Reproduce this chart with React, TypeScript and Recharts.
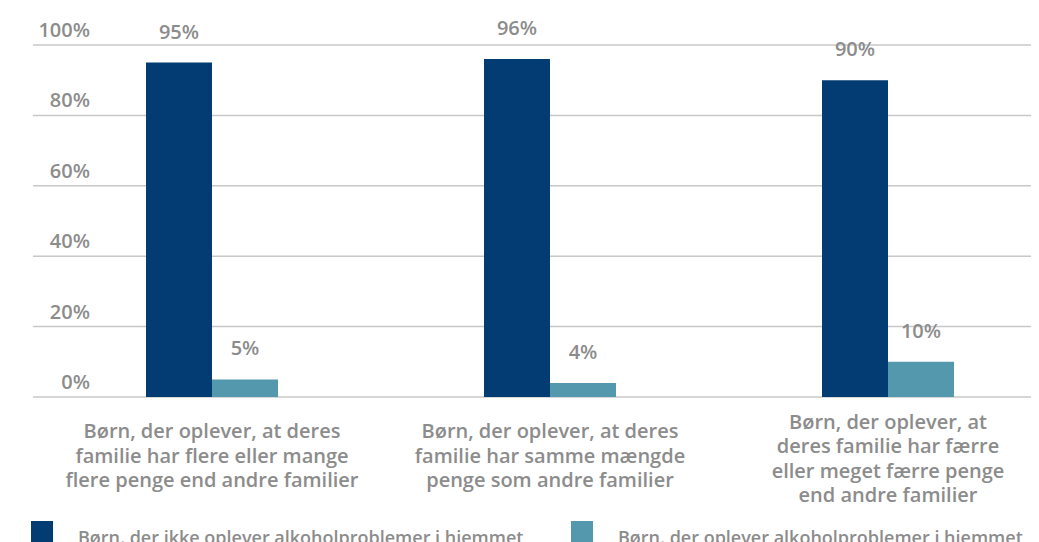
import { Bar, BarChart, CartesianGrid, LabelList, XAxis, YAxis } from "recharts";

const categories = [
  "Børn, der oplever, at deres\nfamilie har flere eller mange\nflere penge end andre familier",
  "Børn, der oplever, at deres\nfamilie har samme mængde\npenge som andre familier",
  "Børn, der oplever, at\nderes familie har færre\neller meget færre penge\nend andre familier",
];
const seriesNames = [
  "Børn, der ikke oplever alkoholproblemer i hjemmet",
  "Børn, der oplever alkoholproblemer i hjemmet",
];
const noProblems = [95, 96, 90];
const withProblems = [5, 4, 10];
const yTicks = [0, 20, 40, 60, 80, 100];

const colors = ["#023c72", "#5398ad"];
const textColor = "#8c8c8c";
const font = "'Open Sans', sans-serif";

const data = categories.map((name, i) => ({ name, a: noProblems[i], b: withProblems[i] }));

function YTick(props: any) {
  const { y, payload } = props;
  return (
    <text x={82} y={y - 8} textAnchor="end" fill={textColor} fontSize={20} fontWeight={600} fontFamily={font}>
      {payload.value}%
    </text>
  );
}

// multi-line category label, roughly centred under the axis
function XTick(props: any) {
  const { x, y, payload } = props;
  const lines = String(payload.value).split("\n");
  const lh = 24.5;
  const first = 33 - (lines.length - 3) * 9.5;
  return (
    <text x={x} y={y} textAnchor="middle" fill={textColor} fontSize={20} fontWeight={600} fontFamily={font}>
      {lines.map((l, i) => (
        <tspan key={i} x={x} dy={i === 0 ? first : lh}>
          {l}
        </tspan>
      ))}
    </text>
  );
}

function ValueLabel(props: any) {
  const { x, y, width, value } = props;
  return (
    <text x={x + width / 2} y={y - 24} textAnchor="middle" fill={textColor} fontSize={20} fontWeight={600} fontFamily={font}>
      {value}%
    </text>
  );
}

export default function App() {
  return (
    <div style={{ position: "relative", width: 1031, height: 534, overflow: "hidden", fontFamily: font }}>
      <style>{"html,body{overflow:hidden}"}</style>
      <BarChart width={1049} height={534} data={data} margin={{ top: 37, right: 0, bottom: 25, left: 0 }} barGap={0}>
        <CartesianGrid horizontal vertical={false} stroke="#c8c8c8" strokeWidth={1.5} />
        <XAxis dataKey="name" axisLine={false} tickLine={false} interval={0} height={120} padding={{ left: 10, right: 0 }} tick={<XTick />} />
        <YAxis width={25} domain={[0, 100]} ticks={yTicks} axisLine={false} tickLine={false} tick={<YTick />} />
        <Bar dataKey="a" name={seriesNames[0]} fill={colors[0]} barSize={66} isAnimationActive={false}>
          <LabelList dataKey="a" content={<ValueLabel />} />
        </Bar>
        <Bar dataKey="b" name={seriesNames[1]} fill={colors[1]} barSize={66} isAnimationActive={false}>
          <LabelList dataKey="b" content={<ValueLabel />} />
        </Bar>
      </BarChart>
      {seriesNames.map((n, i) => (
        <div key={n} style={{ position: "absolute", top: 513, left: i === 0 ? 23 : 563, display: "flex", alignItems: "flex-start" }}>
          <div style={{ width: 22, height: 22, background: colors[i] }} />
          <span style={{ marginLeft: 25, color: textColor, fontSize: 18, fontWeight: 600, lineHeight: "22px", marginTop: 5, whiteSpace: "nowrap" }}>{n}</span>
        </div>
      ))}
    </div>
  );
}
